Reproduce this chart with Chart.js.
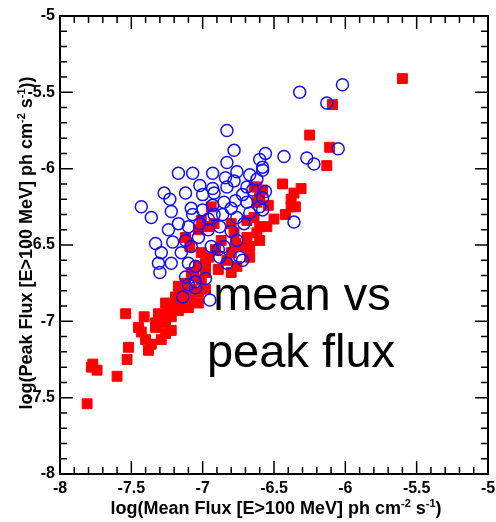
<!DOCTYPE html>
<html>
<head>
<meta charset="utf-8">
<script src="https://cdn.jsdelivr.net/npm/chart.js@4/dist/chart.umd.min.js"></script>
<style>
  html, body { margin: 0; padding: 0; background: #fff; }
  #wrap { width: 496px; height: 522px; }
</style>
</head>
<body>
<div id="wrap"><canvas id="fluxChart" width="496" height="522"></canvas></div>
<script>
// data
const axisTicks = [-8, -7.5, -7, -6.5, -6, -5.5, -5];

// blue open circles
const blueX = [-6.02, -6.32, -6.13, -6.05, -6.27, -6.22, -6.43, -6.56, -6.60, -6.58,
  -6.83, -6.78, -6.83, -7.17, -7.07, -6.93, -6.67, -6.78, -6.58, -7.02,
  -6.93, -6.83, -6.69, -6.62, -7.27, -7.12, -7.00, -6.92, -6.85, -6.77,
  -6.69, -6.58, -6.58, -6.56, -6.60, -7.36, -7.43, -7.22, -7.08, -7.00,
  -6.92, -6.80, -6.76, -6.67, -7.23, -7.24, -7.17, -7.10, -7.02, -6.96,
  -6.88, -6.80, -6.71, -7.33, -7.21, -7.12, -7.03, -6.94, -6.85, -6.76,
  -7.29, -7.15, -7.08, -6.89, -7.31, -7.22, -7.10, -6.88, -6.74, -7.30,
  -7.05, -7.05, -6.98, -7.14, -7.05, -6.95, -7.10, -6.72, -6.36, -6.83,
  -7.12, -6.93, -6.86, -6.72, -7.07, -6.96, -6.65, -6.76, -6.84];
const blueY = [-5.45, -5.50, -5.57, -5.87, -5.93, -5.97, -5.92, -5.90, -5.94, -6.01,
  -5.75, -5.88, -5.96, -6.03, -6.03, -6.03, -6.04, -6.08, -5.99, -6.11,
  -6.13, -6.12, -6.12, -6.07, -6.16, -6.16, -6.17, -6.16, -6.22, -6.21,
  -6.22, -6.19, -6.27, -6.15, -6.25, -6.32, -6.25, -6.28, -6.26, -6.27,
  -6.30, -6.26, -6.32, -6.29, -6.20, -6.40, -6.36, -6.38, -6.36, -6.40,
  -6.38, -6.41, -6.36, -6.49, -6.48, -6.47, -6.45, -6.51, -6.51, -6.47,
  -6.55, -6.55, -6.51, -6.53, -6.62, -6.62, -6.62, -6.58, -6.58, -6.68,
  -6.64, -6.74, -6.72, -6.84, -6.78, -6.86, -6.76, -6.60, -6.35, -6.62,
  -6.71, -6.24, -6.30, -6.17, -6.30, -6.33, -6.14, -6.02, -6.06];

// red filled markers
const redX = [-5.60, -6.09, -6.25, -6.11, -6.13, -6.31, -6.44, -6.38, -6.38, -6.42,
  -6.50, -6.54, -6.62, -6.60, -6.62, -6.67, -6.36, -6.35, -6.60, -6.64,
  -6.69, -6.74, -6.80, -6.83, -6.77, -6.91, -6.96, -7.01, -6.98, -7.03,
  -7.08, -7.12, -7.15, -7.18, -7.24, -7.29, -7.33, -7.08, -7.01, -7.03,
  -6.98, -7.10, -7.17, -7.22, -6.94, -6.96, -7.12, -6.87, -6.78, -6.69,
  -6.80, -6.62, -6.58, -6.64, -7.03, -7.09, -7.01, -6.92, -7.81, -7.77,
  -7.74, -7.78, -7.60, -7.53, -7.52, -7.54, -7.41, -7.43, -7.40, -7.38,
  -7.33, -7.26, -7.29, -7.36, -7.26, -7.31, -7.24, -7.26, -7.17, -7.10,
  -7.19, -7.12, -7.45, -7.22, -7.17, -6.98, -6.89, -6.80, -7.03, -6.60,
  -6.55, -6.76, -6.67, -7.06];
const redY = [-5.41, -5.58, -5.78, -5.86, -5.98, -6.13, -6.10, -6.20, -6.25, -6.30,
  -6.33, -6.24, -6.12, -6.38, -6.42, -6.51, -6.16, -6.25, -6.19, -6.32,
  -6.45, -6.51, -6.55, -6.60, -6.49, -6.53, -6.58, -6.55, -6.62, -6.64,
  -6.68, -6.75, -6.81, -6.86, -6.91, -6.97, -7.01, -6.79, -6.73, -6.81,
  -6.79, -6.86, -6.93, -6.97, -6.25, -6.38, -6.45, -6.47, -6.42, -6.34,
  -6.36, -6.22, -6.14, -6.12, -6.40, -6.51, -6.34, -6.36, -7.54, -7.28,
  -7.32, -7.30, -7.36, -7.25, -7.17, -6.95, -6.97, -7.07, -7.12, -7.19,
  -7.04, -7.08, -7.12, -7.15, -7.01, -6.95, -6.93, -6.88, -6.88, -6.91,
  -6.84, -6.81, -7.04, -7.06, -6.77, -6.68, -6.66, -6.68, -6.88, -6.47,
  -6.38, -6.64, -6.58, -6.70];

const toPoints = (xs, ys) => xs.map((x, i) => ({ x: x, y: ys[i] }));

const BOLD = '"Liberation Sans", Arial, sans-serif';

// frame, inward ticks, titles, annotation
const framePlugin = {
  id: 'frame',
  afterDraw(chart) {
    const ctx = chart.ctx;
    const a = chart.chartArea;
    const xs = chart.scales.x, ys = chart.scales.y;
    ctx.save();
    ctx.strokeStyle = '#000';
    ctx.lineWidth = 2;
    ctx.strokeRect(a.left, a.top, a.right - a.left, a.bottom - a.top);
    ctx.lineWidth = 1.5;
    ctx.beginPath();
    for (let i = 0; i <= 30; i++) {
      const v = -8 + i * 0.1;
      const len = (i % 5 === 0) ? 13 : 7;
      const px = xs.getPixelForValue(v);
      ctx.moveTo(px, a.bottom); ctx.lineTo(px, a.bottom - len);
      ctx.moveTo(px, a.top); ctx.lineTo(px, a.top + len);
      const py = ys.getPixelForValue(v);
      ctx.moveTo(a.left, py); ctx.lineTo(a.left + len, py);
      ctx.moveTo(a.right, py); ctx.lineTo(a.right - len, py);
    }
    ctx.stroke();

    // axis titles with superscripts
    const drawTitle = (parts, cx, cy, rot) => {
      ctx.save();
      ctx.translate(cx, cy);
      ctx.rotate(rot);
      ctx.fillStyle = '#000';
      ctx.textBaseline = 'alphabetic';
      ctx.textAlign = 'left';
      let w = 0;
      parts.forEach(p => {
        ctx.font = 'bold ' + (p.sup ? 11 : 18) + 'px ' + BOLD;
        w += ctx.measureText(p.t).width;
      });
      let x = -w / 2;
      parts.forEach(p => {
        ctx.font = 'bold ' + (p.sup ? 11 : 18) + 'px ' + BOLD;
        ctx.fillText(p.t, x, p.sup ? -1 : 6);
        x += ctx.measureText(p.t).width;
      });
      ctx.restore();
    };
    drawTitle([{ t: 'log(Mean Flux [E>100 MeV] ph cm' }, { t: '-2', sup: true },
      { t: ' s' }, { t: '-1', sup: true }, { t: ')' }], 276, 508, 0);
    drawTitle([{ t: 'log(Peak Flux [E>100 MeV] ph cm' }, { t: '-2', sup: true },
      { t: ' s' }, { t: '-1', sup: true }, { t: '))' }], 26, 243, -Math.PI / 2);

    ctx.fillStyle = '#000';
    ctx.textAlign = 'center';
    ctx.font = '47px ' + BOLD;
    ctx.fillText('mean vs', 302, 310);
    ctx.fillText('peak flux', 301, 367);
    ctx.restore();
  }
};

const config = {
  type: 'scatter',
  data: {
    datasets: [{
      label: 'peak',
      data: toPoints(blueX, blueY),
      pointStyle: 'circle',
      pointRadius: 6,
      borderWidth: 1.5,
      borderColor: '#1010ff',
      backgroundColor: 'rgba(0,0,0,0)'
    }, {
      label: 'mean',
      data: toPoints(redX, redY),
      pointStyle: 'rect',
      pointRadius: 7,
      borderWidth: 1,
      borderColor: '#ff0000',
      backgroundColor: '#ff0000'
    }]
  },
  options: {
    responsive: false,
    animation: false,
    layout: { padding: { left: 0, right: 2, top: 16, bottom: 0 } },
    plugins: { legend: { display: false }, tooltip: { enabled: false } },
    scales: {
      x: {
        type: 'linear', min: -8, max: -5,
        afterBuildTicks: s => { s.ticks = axisTicks.map(v => ({ value: v })); },
        afterFit: s => { s.height = 48; s.paddingLeft = 0; s.paddingRight = 0; },
        ticks: { autoSkip: false, maxRotation: 0, padding: 5, color: '#000',
          font: { family: BOLD, size: 16, weight: 'bold' }, callback: v => String(v) },
        grid: { display: false, drawTicks: false },
        border: { display: false }
      },
      y: {
        type: 'linear', min: -8, max: -5,
        afterBuildTicks: s => { s.ticks = axisTicks.map(v => ({ value: v })); },
        afterFit: s => { s.width = 60; s.paddingTop = 0; s.paddingBottom = 0; },
        ticks: { autoSkip: false, padding: 5, color: '#000',
          font: { family: BOLD, size: 16, weight: 'bold' }, callback: v => String(v) },
        grid: { display: false, drawTicks: false },
        border: { display: false }
      }
    }
  },
  plugins: [framePlugin]
};

const fluxChart = new Chart(document.getElementById('fluxChart'), config);
</script>
</body>
</html>
